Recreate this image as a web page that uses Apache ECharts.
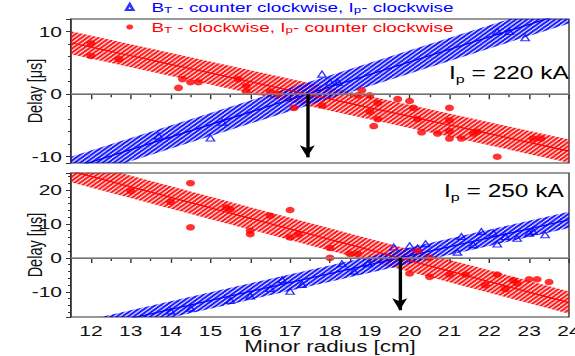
<!DOCTYPE html>
<html>
<head>
<meta charset="utf-8">
<script src="https://cdn.jsdelivr.net/npm/echarts@6/dist/echarts.min.js"></script>
<style>
  html, body { margin: 0; padding: 0; background: #fff; overflow: hidden; }
  #chart { position: absolute; left: 0; top: 0; height: 356px; transform-origin: 0 0; }
</style>
</head>
<body>
<div id="chart"></div>
<script>
// the source figure is stretched sideways, so draw it narrower and stretch the box
const S = 1.4;
const px = v => v / S;

const xRange = [11.5, 24];
const yRange220 = [-11, 12];
const yRange250 = [-17.4, 25];

// I_p = 220 kA
const blue220 = [[13.7, -6.7], [15.0, -7.0], [15.3, -4.5], [17.8, 3.2], [18.0, 1.9], [18.2, 1.9],
  [22.2, 10.0], [22.5, 10.0], [22.9, 9.0]];
const red220 = [[12.0, 8.1], [12.0, 6.1], [12.7, 5.6], [14.2, 1.0], [14.3, 2.4], [14.5, 1.9], [14.7, 1.9],
  [15.7, 2.4], [15.9, 1.3], [15.9, 0.4], [16.5, 0.4], [16.7, 0.0], [17.1, -2.2], [17.8, -1.8],
  [18.8, 0.6], [18.7, -0.2], [19.0, -0.2], [19.2, -1.4], [19.0, -2.8], [19.2, -4.0], [19.1, -5.1],
  [19.7, -0.8], [20.0, -1.1], [20.1, -2.2], [20.2, -4.0], [20.3, -6.1], [20.7, -6.3], [21.0, -2.2],
  [21.0, -4.2], [21.0, -5.9], [21.0, -7.1], [21.3, -7.1], [21.6, -6.3], [21.7, -6.0], [22.2, -10.0],
  [23.1, -7.1], [23.3, -7.1]];

// I_p = 250 kA
const blue250 = [[14.0, -15.6], [14.5, -14.8], [15.5, -12.5], [16.0, -11.2], [16.5, -9.0], [16.8, -6.4],
  [17.0, -9.8], [17.3, -7.8], [18.3, -1.7], [18.6, -3.9], [18.95, -1.7], [19.6, 3.2], [20.0, 3.6],
  [20.2, 2.9], [20.4, 4.2], [21.2, 1.7], [21.3, 6.3], [21.6, 3.9], [21.8, 7.8], [22.1, 7.3], [22.2, 4.1],
  [22.4, 6.3], [22.7, 5.8], [23.0, 7.3], [23.1, 7.8], [23.4, 6.8]];
const red250 = [[13.0, 19.7], [14.0, 16.5], [14.5, 22.0], [14.5, 9.0], [15.4, 14.8], [15.5, 14.3],
  [16.0, 8.0], [16.0, 7.0], [16.5, 12.4], [17.0, 14.1], [17.0, 6.0], [17.2, 7.0], [18.0, 2.9], [18.0, 0.0],
  [18.5, 1.2], [18.7, 1.2], [20.0, -4.6], [20.2, 2.1], [20.5, 0.0], [20.5, -5.6], [21.0, -4.9], [21.4, -4.9],
  [21.9, -8.0], [22.2, -4.9], [22.4, -9.2], [22.6, -6.6], [22.7, -7.5], [23.0, -6.3], [23.2, -6.3],
  [23.5, -7.1]];

// fits: [slope, zero crossing, half width of the band]
const fitBlue220 = [2.0, 17.43, 1.85];
const fitRed220 = [-1.384, 17.43, 1.85];
const fitBlue250 = [2.64, 19.75, 2.4];
const fitRed250 = [-3.1, 19.75, 3.3];

const crossX = [17.43, 19.75];
const arrowEnd = [-10.1, -15.4];

const nameBlue = 'BT - counter clockwise, Ip- clockwise';
const nameRed = 'BT - clockwise, Ip- counter clockwise';
const BLUE = '#0000ff';
const RED = '#ff0000';
const FONT = 'Liberation Sans, Arial, sans-serif';

const el = document.getElementById('chart');
el.style.width = (575 / S) + 'px';
el.style.transform = 'scaleX(' + S + ')';

function hatch(color) {
  const c = document.createElement('canvas');
  c.width = 4; c.height = 4;
  const ctx = c.getContext('2d');
  ctx.strokeStyle = color;
  ctx.lineWidth = 1.6;
  ctx.beginPath();
  ctx.moveTo(0, 4); ctx.lineTo(4, 0);
  ctx.moveTo(-1, 1); ctx.lineTo(1, -1);
  ctx.moveTo(3, 5); ctx.lineTo(5, 3);
  ctx.stroke();
  return {image: c, repeat: 'repeat', imageWidth: 4, imageHeight: 4};
}

const fitAt = (f, x) => f[0] * (x - f[1]);

// keep the part of a polygon above (or below) a y limit
function clipY(poly, limit, keepAbove) {
  const out = [];
  for (let i = 0; i < poly.length; i++) {
    const a = poly[i], b = poly[(i + 1) % poly.length];
    const ina = keepAbove ? a[1] >= limit : a[1] <= limit;
    const inb = keepAbove ? b[1] >= limit : b[1] <= limit;
    if (ina) out.push(a);
    if (ina !== inb) {
      const t = (limit - a[1]) / (b[1] - a[1]);
      out.push([a[0] + t * (b[0] - a[0]), limit]);
    }
  }
  return out;
}

function band(f, color, gi, yr) {
  const x0 = xRange[0], x1 = xRange[1];
  let poly = [[x0, fitAt(f, x0) - f[2]], [x1, fitAt(f, x1) - f[2]], [x1, fitAt(f, x1) + f[2]], [x0, fitAt(f, x0) + f[2]]];
  poly = clipY(clipY(poly, yr[0], true), yr[1], false);
  const fill = hatch(color);
  return [
    {
      type: 'custom', xAxisIndex: gi, yAxisIndex: gi, silent: true, z: 1,
      data: [[f[1], 0]],
      renderItem: (params, api) => ({
        type: 'polygon',
        shape: {points: poly.map(p => api.coord(p))},
        style: {fill: fill}
      })
    },
    {
      type: 'line', xAxisIndex: gi, yAxisIndex: gi, silent: true,
      data: xRange.map(x => [x, fitAt(f, x)]),
      symbol: 'none', lineStyle: {color: color, width: 1.2}, z: 2
    }
  ];
}

function points(name, data, gi) {
  const isBlue = name === nameBlue;
  return {
    name: name, type: 'scatter', xAxisIndex: gi, yAxisIndex: gi, data: data, z: 3,
    symbol: isBlue ? 'triangle' : 'circle',
    symbolSize: isBlue ? 6 : 6.5,
    itemStyle: isBlue ? {color: 'rgba(255,255,255,0)', borderColor: BLUE, borderWidth: 1.1} : {color: RED}
  };
}

function zeroLine(gi) {
  return {
    type: 'line', xAxisIndex: gi, yAxisIndex: gi, data: [], z: 2, silent: true,
    markLine: {
      silent: true, animation: false, symbol: 'none', label: {show: false},
      lineStyle: {color: '#888', width: 1.5, type: 'solid'},
      data: [{yAxis: 0}]
    }
  };
}

function arrow(gi) {
  return {
    type: 'line', xAxisIndex: gi, yAxisIndex: gi, data: [], z: 4, silent: true,
    markLine: {
      silent: true, animation: false,
      symbol: ['none', 'arrow'], symbolSize: [8, 12],
      label: {show: false},
      lineStyle: {color: '#000', width: 2.4, type: 'solid'},
      data: [[{coord: [crossX[gi], 0]}, {coord: [crossX[gi], arrowEnd[gi]]}]]
    }
  };
}

const axisCol = '#333';
function xAxis(gi) {
  return {
    type: 'value', gridIndex: gi, min: xRange[0], max: xRange[1], minInterval: 1, maxInterval: 1,
    axisLine: {show: true, lineStyle: {color: axisCol, width: 1}},
    axisTick: {show: true, length: 5, lineStyle: {color: axisCol}},
    minorTick: {show: true, splitNumber: 2, length: 3, lineStyle: {color: axisCol}},
    splitLine: {show: false},
    axisLabel: {show: gi === 1, showMinLabel: false, color: '#111', fontSize: 15, fontFamily: FONT, margin: 6}
  };
}
function yAxis(gi, range) {
  return {
    type: 'value', gridIndex: gi, min: range[0], max: range[1], minInterval: 10, maxInterval: 10,
    name: 'Delay [μs]', nameLocation: 'middle', nameRotate: 90, nameGap: 18, nameMoveOverlap: false,
    nameTextStyle: {color: '#111', fontSize: 14.5, fontFamily: FONT},
    axisLine: {show: true, lineStyle: {color: axisCol, width: 1}},
    axisTick: {show: true, length: px(5), lineStyle: {color: axisCol}},
    minorTick: {show: true, splitNumber: 5, length: px(3), lineStyle: {color: axisCol}},
    splitLine: {show: false},
    axisLabel: {showMinLabel: false, showMaxLabel: false, color: '#111', fontSize: 15, fontFamily: FONT, margin: px(9)}
  };
}

const sub = (color, size, lh) => ({color: color, fontSize: size, fontFamily: FONT, lineHeight: lh, verticalAlign: 'bottom'});
const main = (color, size, lh) => ({color: color, fontSize: size, fontFamily: FONT, lineHeight: lh});

const chart = echarts.init(el, null, {renderer: 'svg'});
chart.setOption({
  animation: false,
  backgroundColor: '#fff',
  grid: [
    {left: px(71), top: 19, width: px(498), height: 144, outerBoundsMode: 'none',
      show: true, borderColor: axisCol, borderWidth: 1, backgroundColor: 'transparent'},
    {left: px(71), top: 173, width: px(498), height: 144, outerBoundsMode: 'none',
      show: true, borderColor: axisCol, borderWidth: 1, backgroundColor: 'transparent'}
  ],
  xAxis: [xAxis(0), xAxis(1)],
  yAxis: [yAxis(0, yRange220), yAxis(1, yRange250)],
  legend: {
    data: [nameBlue, nameRed],
    orient: 'vertical', left: px(128.3) - 2.5, top: 0, padding: 0,
    itemWidth: 5, itemHeight: 6, itemGap: 5,
    formatter: name => name === nameBlue
      ? '{b0|B}{bs|T}{b| - counter clockwise, I}{bs|p}{b|- clockwise}'
      : '{r0|B}{rs|T}{r| - clockwise, I}{rs|p}{r|- counter clockwise}',
    textStyle: {
      rich: {
        b0: Object.assign(main(BLUE, 13.5, 16), {padding: [0, 0, 0, 8]}),
        b: main(BLUE, 13.5, 16),
        bs: sub(BLUE, 9.5, 2),
        r0: Object.assign(main(RED, 13.5, 16), {padding: [0, 0, 0, 8]}),
        r: main(RED, 13.5, 16),
        rs: sub(RED, 9.5, 2)
      }
    }
  },
  graphic: [
    {
      type: 'text', x: px(449), y: 61, z: 10,
      style: {
        text: '{m|I}{s|p}{m| = 220 kA}',
        rich: {m: main('#111', 17.5, 24), s: sub('#111', 11.5, 13)}
      }
    },
    {
      type: 'text', x: px(444), y: 179, z: 10,
      style: {
        text: '{m|I}{s|p}{m| = 250 kA}',
        rich: {m: main('#111', 17.5, 24), s: sub('#111', 11.5, 13)}
      }
    },
    {
      type: 'text', x: px(330), y: 346.5, z: 10,
      style: {text: 'Minor radius [cm]', fill: '#111', fontSize: 16, fontFamily: FONT, align: 'center', verticalAlign: 'middle'}
    }
  ],
  series: [].concat(
    band(fitRed220, RED, 0, yRange220),
    band(fitBlue220, BLUE, 0, yRange220),
    band(fitRed250, RED, 1, yRange250),
    band(fitBlue250, BLUE, 1, yRange250),
    [
      zeroLine(0),
      zeroLine(1),
      points(nameBlue, blue220, 0),
      points(nameRed, red220, 0),
      points(nameBlue, blue250, 1),
      points(nameRed, red250, 1),
      arrow(0),
      arrow(1)
    ]
  )
});
</script>
</body>
</html>
